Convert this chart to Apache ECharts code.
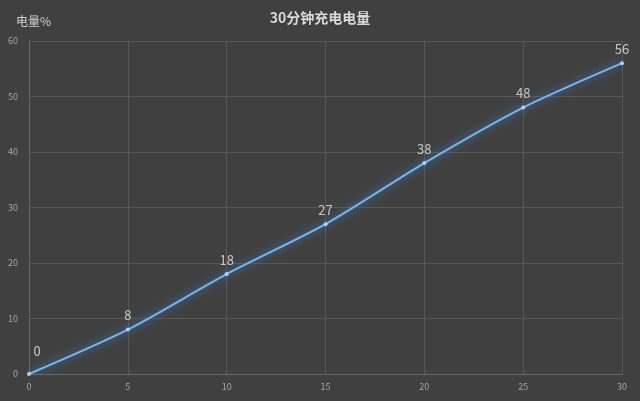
<!DOCTYPE html>
<html><head><meta charset="utf-8">
<script src="https://cdn.jsdelivr.net/npm/echarts@6/dist/echarts.min.js"></script>
<style>html,body{margin:0;padding:0;background:#404040;}#c{width:640px;height:401px;}</style>
</head><body><div id="c"></div>
<script>
const minutes = [0, 5, 10, 15, 20, 25, 30];
const charge = [0, 8, 18, 27, 38, 48, 56];
const titleText = '30分钟充电电量';
const yName = '电量%';

const chart = echarts.init(document.getElementById('c'));
chart.setOption({
  backgroundColor: '#404040',
  animation: false,
  title: {
    text: titleText, left: 'center', top: 6,
    textStyle: {color: '#d9d9d9', fontSize: 14, fontWeight: 'bold', fontFamily: 'Noto Sans CJK SC'}
  },
  grid: {left: 29, right: 18, top: 41, bottom: 27},
  xAxis: {
    type: 'value', min: 0, max: 30, interval: 5,
    axisLine: {show: true, lineStyle: {color: '#6a6a6a'}},
    axisTick: {show: false},
    axisLabel: {color: '#a6a6a6', fontSize: 9, margin: 8, fontFamily: 'Noto Sans CJK SC'},
    splitLine: {show: true, lineStyle: {color: '#575757', width: 1}}
  },
  yAxis: {
    type: 'value', min: 0, max: 60, interval: 10,
    name: yName, nameLocation: 'end', nameGap: 14,
    nameTextStyle: {color: '#d0d0d0', fontSize: 12, align: 'right', padding: [0, -22, 0, 0], fontFamily: 'Noto Sans CJK SC'},
    axisLine: {show: true, lineStyle: {color: '#6a6a6a'}},
    axisTick: {show: false},
    axisLabel: {color: '#a6a6a6', fontSize: 9, margin: 11, fontFamily: 'Noto Sans CJK SC'},
    splitLine: {show: true, lineStyle: {color: '#575757', width: 1}}
  },
  series: [{
    type: 'line',
    data: minutes.map((m, i) => {
      const d = {value: [m, charge[i]]};
      if (i === 0) d.label = {offset: [8, -8]};
      return d;
    }),
    smooth: 0.25,
    symbol: 'circle', symbolSize: 4,
    itemStyle: {color: '#a8d4f7'},
    lineStyle: {color: '#7ab6ea', width: 2, shadowColor: 'rgba(60,140,235,1)', shadowBlur: 8},
    label: {
      show: true, position: 'top', distance: 6,
      color: '#c8c8c8', fontSize: 13, fontFamily: 'Noto Sans CJK SC'
    }
  }]
});
</script></body></html>
